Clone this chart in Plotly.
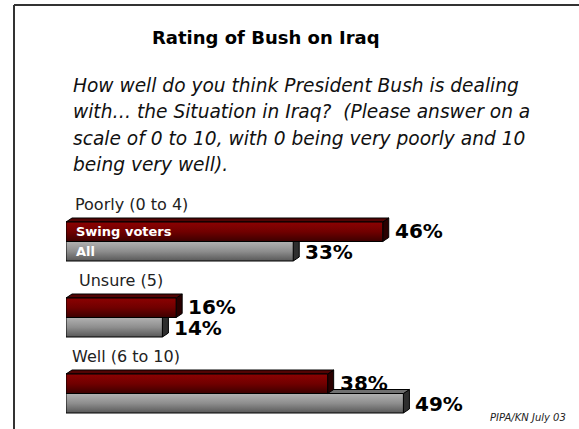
import plotly.graph_objects as go

# ---- data ----
categories = ["Poorly (0 to 4)", "Unsure (5)", "Well (6 to 10)"]
series_names = ["Swing voters", "All"]
swing_voters = [46, 16, 38]
all_respondents = [33, 14, 49]

title_text = "Rating of Bush on Iraq"
question_lines = [
    "How well do you think President Bush is dealing",
    "with\u2026 the Situation in Iraq?  (Please answer on a",
    "scale of 0 to 10, with 0 being very poorly and 10",
    "being very well).",
]
source_text = "PIPA/KN July 03"

# ---- layout geometry ----
W, H = 579, 429
ML, MR, MT, MB = 66, 31, 190, 0
X_MAX = 70
PLOT_W = W - ML - MR
PLOT_H = H - MT - MB
PX_PER_X = PLOT_W / X_MAX
PX_PER_CAT = 76
Y_TOP = -51.5 / PX_PER_CAT
Y_RANGE = [Y_TOP + PLOT_H / PX_PER_CAT, Y_TOP]
BAR_H = 19.5 / PX_PER_CAT
DEPTH_X = 6 / PX_PER_X
DEPTH_Y = 4 / PX_PER_CAT

FONT = "DejaVu Sans"

styles = {
    "Swing voters": dict(front=["#8c0202", "#700000", "#3c0000"],
                         top="#520404", side="#2a0000"),
    "All": dict(front=["#b2b2b2", "#8e8e8e", "#585858"],
                top="#707070", side="#2e2e2e"),
}


def px_x(px):
    return (px - ML) / PLOT_W


def px_y(px):
    return (H - MB - px) / PLOT_H


def face(xs, ys, color=None, gradient=None, y0=None, y1=None):
    kw = dict(x=xs + [xs[0]], y=ys + [ys[0]], mode="lines", fill="toself",
              line=dict(color="#000000", width=1), hoverinfo="skip",
              showlegend=False)
    if gradient is not None:
        n = len(gradient) - 1
        kw["fillgradient"] = dict(
            type="vertical", start=y0, stop=y1,
            colorscale=[[i / n, c] for i, c in enumerate(gradient)])
    else:
        kw["fillcolor"] = color
    return go.Scatter(**kw)


def bar_faces(value, y_top, style):
    y_bot = y_top + BAR_H
    traces = []
    # right-hand side face
    traces.append(face([value, value + DEPTH_X, value + DEPTH_X, value],
                       [y_top, y_top - DEPTH_Y, y_bot - DEPTH_Y, y_bot],
                       color=style["side"]))
    # top face
    traces.append(face([0, DEPTH_X, value + DEPTH_X, value],
                       [y_top, y_top - DEPTH_Y, y_top - DEPTH_Y, y_top],
                       color=style["top"]))
    # front face with vertical shading
    traces.append(face([0, value, value, 0], [y_top, y_top, y_bot, y_bot],
                       gradient=style["front"], y0=y_top, y1=y_bot))
    return traces


fig = go.Figure()
annotations = []
series_values = {"Swing voters": swing_voters, "All": all_respondents}
label_shift = [7, 11, 4]

for i, cat in enumerate(categories):
    tops = {"Swing voters": i - BAR_H, "All": float(i)}
    # grey bar first so the red bar sits over its top face
    for name in ["All", "Swing voters"]:
        v = series_values[name][i]
        for tr in bar_faces(v, tops[name], styles[name]):
            fig.add_trace(tr)
    for name in series_names:
        v = series_values[name][i]
        annotations.append(dict(
            x=v, y=tops[name] + BAR_H / 2, xref="x", yref="y",
            text=f"{v}%", showarrow=False, xanchor="left", yanchor="middle",
            xshift=10, yshift=-1 if name == "All" else 1,
            font=dict(family=FONT, size=20, color="#000000", weight="bold")))
        if i == 0:
            annotations.append(dict(
                x=0, y=tops[name] + BAR_H / 2, xref="x", yref="y",
                text=name, showarrow=False, xanchor="left", yanchor="middle",
                xshift=8,
                font=dict(family=FONT, size=13, color="#ffffff",
                          weight="bold")))
    annotations.append(dict(
        x=0, y=tops["Swing voters"], xref="x", yref="y", text=cat,
        showarrow=False, xanchor="left", yanchor="middle",
        xshift=label_shift[i], yshift=18,
        font=dict(family=FONT, size=16, color="#222222")))

annotations.append(dict(
    x=px_x(266), y=px_y(38), xref="paper", yref="paper", text=title_text,
    showarrow=False, xanchor="center", yanchor="middle",
    font=dict(family=FONT, size=18, color="#000000", weight="bold")))

for k, line in enumerate(question_lines):
    annotations.append(dict(
        x=px_x(71), y=px_y(85 + 26.5 * k), xref="paper", yref="paper",
        text=line, showarrow=False, xanchor="left", yanchor="middle",
        font=dict(family=FONT, size=18.6, color="#111111", style="italic")))

annotations.append(dict(
    x=px_x(568), y=px_y(417), xref="paper", yref="paper", text=source_text,
    showarrow=False, xanchor="right", yanchor="middle",
    font=dict(family=FONT, size=10, color="#222222", style="italic")))

# slide frame along the left and top edges
frame = dict(type="line", xref="paper", yref="paper",
             line=dict(color="#333333", width=2))
shapes = [
    dict(frame, x0=px_x(14), y0=px_y(H + 2), x1=px_x(14), y1=px_y(5)),
    dict(frame, x0=px_x(14), y0=px_y(5), x1=px_x(W + 2), y1=px_y(5)),
]

fig.update_layout(
    width=W, height=H,
    margin=dict(l=ML, r=MR, t=MT, b=MB),
    paper_bgcolor="#ffffff", plot_bgcolor="#ffffff",
    showlegend=False,
    xaxis=dict(range=[0, X_MAX], visible=False, fixedrange=True),
    yaxis=dict(range=Y_RANGE, visible=False, fixedrange=True),
    annotations=annotations,
    shapes=shapes,
)

fig.write_html("out.html")
